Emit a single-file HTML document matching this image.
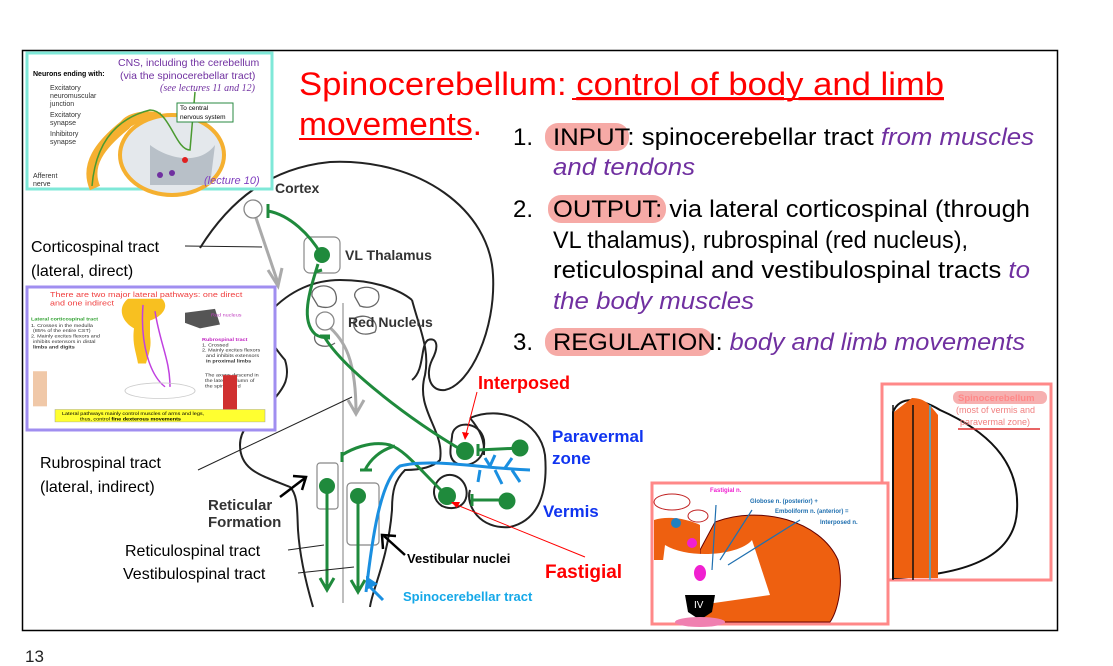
<!DOCTYPE html>
<html><head><meta charset="utf-8"><style>
html,body{margin:0;padding:0;background:#fff;}
svg{display:block;font-family:"Liberation Sans",sans-serif;}
</style></head><body>
<svg width="1113" height="666" viewBox="0 0 1113 666" xmlns="http://www.w3.org/2000/svg">
<rect x="0" y="0" width="1113" height="666" fill="#fff"/>
<rect x="22.5" y="50.5" width="1035" height="580" fill="none" stroke="#000" stroke-width="1.5"/>
<text x="25" y="662" font-size="17" fill="#222">13</text>

<!-- Title -->
<text x="299" y="95" font-size="32" fill="#f00" textLength="645" lengthAdjust="spacingAndGlyphs">Spinocerebellum: <tspan text-decoration="underline">control of body and limb</tspan></text>
<line x1="572" y1="99" x2="944" y2="99" stroke="#f00" stroke-width="2"/>
<text x="299" y="135" font-size="32" fill="#f00" textLength="183" lengthAdjust="spacingAndGlyphs">movements.</text>
<line x1="299" y1="139" x2="472" y2="139" stroke="#f00" stroke-width="2"/>

<!-- List -->
<g font-size="24" fill="#000">
<rect x="545" y="123" width="84" height="28" rx="13" fill="#f6aaa6"/>
<rect x="548" y="195" width="118" height="28" rx="13" fill="#f6aaa6"/>
<rect x="545" y="328" width="168" height="28" rx="13" fill="#f6aaa6"/>
<text x="513" y="145">1.</text>
<text x="553" y="145" textLength="481" lengthAdjust="spacingAndGlyphs">INPUT: spinocerebellar tract <tspan fill="#7030a0" font-style="italic">from muscles</tspan></text>
<text x="553" y="175" fill="#7030a0" font-style="italic" textLength="142" lengthAdjust="spacingAndGlyphs">and tendons</text>
<text x="513" y="217">2.</text>
<text x="553" y="217" textLength="477" lengthAdjust="spacingAndGlyphs">OUTPUT: via lateral corticospinal (through</text>
<text x="553" y="248" textLength="415" lengthAdjust="spacingAndGlyphs">VL thalamus), rubrospinal (red nucleus),</text>
<text x="553" y="278" textLength="477" lengthAdjust="spacingAndGlyphs">reticulospinal and vestibulospinal tracts <tspan fill="#7030a0" font-style="italic">to</tspan></text>
<text x="553" y="309" fill="#7030a0" font-style="italic" textLength="201" lengthAdjust="spacingAndGlyphs">the body muscles</text>
<text x="513" y="350">3.</text>
<text x="553" y="350" textLength="472" lengthAdjust="spacingAndGlyphs">REGULATION: <tspan fill="#7030a0" font-style="italic">body and limb movements</tspan></text>
</g>

<!-- Brain outlines -->
<g fill="none" stroke="#222" stroke-width="2">
<path d="M200,248 C230,200 270,168 330,162 C420,158 490,210 493,275 C496,330 470,385 445,390 C430,392 425,375 432,360 C440,345 436,337 428,340 C420,345 425,370 412,380"/>
<path d="M270,312 C290,290 315,280 340,280 C375,280 400,290 412,300"/>
<path d="M270,312 C262,330 272,345 285,360 C293,385 275,395 270,405 C250,420 240,430 240,445 C240,470 260,475 290,487 C298,495 297,510 298,530 C300,560 308,590 313,607"/>
<path d="M412,300 C420,330 430,350 425,375 C415,410 445,430 440,460 C430,470 410,470 405,470 C395,480 392,490 392,510 C388,560 372,590 370,607"/>
<path d="M470,418 C500,405 540,420 545,455 C548,490 540,520 510,527 C480,530 465,505 470,490"/>
<path d="M452,437 C452,420 480,420 484,440 C486,460 470,468 458,464 C448,460 450,450 452,437 Z"/>
<path d="M437,482 C445,470 462,474 466,488 C470,505 455,512 442,506 C433,500 432,490 437,482 Z"/>
<path d="M470,418 C480,430 485,440 484,455" />
</g>
<g fill="none" stroke="#666" stroke-width="1.3">
<path d="M312,296 C310,285 330,282 335,292 C340,305 330,310 318,306 Z"/>
<path d="M355,297 C352,288 370,283 378,292 C382,303 372,310 360,306 Z"/>
<path d="M355,318 C350,330 360,338 375,332 C380,322 368,312 355,318 Z"/>
<path d="M315,335 C312,345 325,350 335,343"/>
</g>
<line x1="343" y1="303" x2="343" y2="603" stroke="#aaa" stroke-width="1.5"/>
<rect x="304" y="237" width="36" height="36" rx="6" fill="none" stroke="#888" stroke-width="1.2"/>
<rect x="317" y="463" width="21" height="46" rx="3" fill="none" stroke="#888" stroke-width="1.2"/>
<rect x="347" y="483" width="32" height="62" rx="4" fill="none" stroke="#888" stroke-width="1.2"/>

<g stroke="#aaa" stroke-width="3" fill="none">
<path d="M255,215 L278,283"/><path d="M268,270 L278,286 L282,268"/>
<path d="M327,325 C345,340 356,360 356,413"/><path d="M348,400 L356,414 L364,400"/>
</g>
<circle cx="253" cy="209" r="9" fill="#fff" stroke="#888" stroke-width="1.3"/>
<circle cx="325" cy="321" r="9" fill="#fff" stroke="#888" stroke-width="1.3"/>

<g stroke="#1f8a3c" stroke-width="3" fill="none">
<path d="M268,211 C290,215 310,235 321,254"/><path d="M268,204 L268,218"/>
<path d="M318,264 C310,290 300,320 315,334 C320,338 327,338 330,338"/><path d="M315,272 L322,270"/>
<path d="M325,338 C345,370 410,420 465,452"/><path d="M320,336 L330,336"/>
<path d="M447,496 C420,470 405,450 390,445 C370,440 350,450 342,455"/><path d="M342,452 L342,462"/>
<path d="M395,446 C380,450 370,460 365,470"/><path d="M360,470 L372,470"/>
<path d="M327,486 L327,588"/><path d="M320,578 L327,590 L334,578"/>
<path d="M358,496 L358,590"/><path d="M351,580 L358,592 L365,580"/>
<path d="M478,450 L520,448"/><path d="M478,444 L478,456"/>
<path d="M472,500 L507,500"/><path d="M472,494 L472,506"/>
</g>
<g fill="#1f8a3c">
<circle cx="322" cy="255" r="8"/><circle cx="465" cy="451" r="9"/><circle cx="447" cy="496" r="9"/>
<circle cx="520" cy="448" r="8.5"/><circle cx="507" cy="501" r="8.5"/>
<circle cx="327" cy="486" r="8"/><circle cx="358" cy="496" r="8"/>
</g>
<g stroke="#1a8fe0" stroke-width="3" fill="none">
<path d="M366,592 C372,540 380,480 400,466 C430,458 480,468 530,470"/>
<path d="M490,466 L495,455 M490,466 L485,458 M505,468 L512,458 M512,470 L520,482 M480,470 L478,482 M495,470 L502,484"/>
</g>
<path d="M368,585 L383,600" stroke="#1a8fe0" stroke-width="3"/>
<path d="M366,576 L366,590 L378,584 Z" fill="#1a8fe0"/>

<g font-weight="bold" fill="#333">
<text x="275" y="193" font-size="14">Cortex</text>
<text x="345" y="260" font-size="14">VL Thalamus</text>
<text x="348" y="327" font-size="14">Red Nucleus</text>
<text x="208" y="510" font-size="15">Reticular</text>
<text x="208" y="527" font-size="15">Formation</text>
<text x="407" y="563" font-size="13" fill="#000">Vestibular nuclei</text>
</g>
<text x="478" y="389" font-size="18" font-weight="bold" fill="#f00">Interposed</text>
<text x="545" y="578" font-size="19" font-weight="bold" fill="#f00">Fastigial</text>
<text x="552" y="442" font-size="17" font-weight="bold" fill="#1034f0">Paravermal</text>
<text x="552" y="464" font-size="17" font-weight="bold" fill="#1034f0">zone</text>
<text x="543" y="517" font-size="17" font-weight="bold" fill="#1034f0">Vermis</text>
<text x="403" y="601" font-size="13" font-weight="bold" fill="#15a8e8">Spinocerebellar tract</text>
<g stroke="#000" stroke-width="2.5" fill="none">
<path d="M280,497 L305,478"/><path d="M293,476 L306,477 L302,490"/>
<path d="M405,555 L384,536"/><path d="M383,549 L382,535 L396,536"/>
</g>
<g stroke="#f00" stroke-width="1" fill="none">
<path d="M477,392 L465,438"/><path d="M585,557 L452,503"/>
</g>
<path d="M465,440 L462,432 L469,433 Z M451,502 L460,502 L457,508 Z" fill="#f00"/>

<g font-size="16" fill="#000">
<text x="31" y="252">Corticospinal tract</text>
<text x="31" y="276">(lateral, direct)</text>
<text x="40" y="468">Rubrospinal tract</text>
<text x="40" y="492">(lateral, indirect)</text>
<text x="125" y="556">Reticulospinal tract</text>
<text x="123" y="579">Vestibulospinal tract</text>
</g>
<g stroke="#222" stroke-width="1" fill="none">
<path d="M185,246 L262,247"/><path d="M198,470 L352,397"/>
<path d="M288,550 L324,545"/><path d="M298,573 L354,567"/>
</g>

<!-- Inset 1 -->
<rect x="27" y="53" width="245" height="136" fill="#fff" stroke="#7fe8d8" stroke-width="3"/>
<text x="33" y="76" font-size="7" font-weight="bold">Neurons ending with:</text>
<g font-size="7" fill="#333"><text x="50" y="90">Excitatory</text><text x="50" y="98">neuromuscular</text><text x="50" y="106">junction</text>
<text x="50" y="117">Excitatory</text><text x="50" y="125">synapse</text><text x="50" y="136">Inhibitory</text><text x="50" y="144">synapse</text>
<text x="33" y="178">Afferent</text><text x="33" y="186">nerve</text></g>
<text x="118" y="66" font-size="10.5" fill="#7030a0">CNS, including the cerebellum</text>
<text x="120" y="79" font-size="10.5" fill="#7030a0">(via the spinocerebellar tract)</text>
<text x="160" y="91" font-size="10" fill="#7030a0" font-style="italic" font-family="Liberation Serif">(see lectures 11 and 12)</text>
<path d="M95,188 C85,165 100,145 125,125 C130,118 145,115 160,118" stroke="#f5b030" stroke-width="11" fill="none"/>
<ellipse cx="172" cy="155" rx="52" ry="40" fill="#e4e8ec" stroke="#f5b030" stroke-width="4"/>
<path d="M150,145 C170,160 200,165 215,145 L210,185 L150,185 Z" fill="#b8c0c8"/>
<path d="M92,186 C95,150 110,120 150,110 C170,110 175,150 190,150 L195,92" stroke="#4a9a30" stroke-width="1.5" fill="none"/>
<rect x="177" y="103" width="56" height="19" fill="#fff" stroke="#2a8a40"/>
<text x="180" y="110" font-size="6.5">To central</text><text x="180" y="119" font-size="6.5">nervous system</text>
<circle cx="160" cy="175" r="3" fill="#7030a0"/><circle cx="172" cy="173" r="3" fill="#7030a0"/><circle cx="185" cy="160" r="3" fill="#e02020"/>
<text x="204" y="184" font-size="11" font-style="italic" fill="#8040c0">(lecture 10)</text>

<!-- Inset 2 -->
<rect x="27" y="287" width="248" height="143" fill="#fff" stroke="#a08ef0" stroke-width="3"/>
<g transform="translate(0,287) scale(1,0.78) translate(0,-287)">
<text x="50" y="300" font-size="9" fill="#f04040">There are two major lateral pathways: one direct</text>
<text x="50" y="311" font-size="9" fill="#f04040">and one indirect</text>
<path d="M128,302 L162,302 C170,312 162,325 150,330 L150,350 C152,365 148,375 146,385 L138,385 C136,370 132,360 134,340 C120,330 118,312 128,302 Z" fill="#f8c020"/>
<path d="M185,320 L215,315 L220,335 L200,340 L185,333 Z" fill="#555"/>
<text x="211" y="325" font-size="5.5" fill="#c040c0">Red nucleus</text>
<g font-size="5.5" fill="#333"><text x="31" y="330" fill="#30a030" font-weight="bold">Lateral corticospinal tract</text>
<text x="31" y="338">1. Crosses in the medulla</text><text x="33" y="345">(85% of the entire CST)</text>
<text x="31" y="352">2. Mainly excites flexors and</text><text x="33" y="359">inhibits extensors in distal</text><text x="33" y="366" font-weight="bold">limbs and digits</text>
<text x="202" y="356" fill="#c020c0" font-weight="bold">Rubrospinal tract</text><text x="202" y="363">1. Crossed</text>
<text x="202" y="370">2. Mainly excites flexors</text><text x="206" y="377">and inhibits extensors</text><text x="206" y="384" font-weight="bold">in proximal limbs</text>
<text x="205" y="402">The axons descend in</text><text x="205" y="409">the lateral column of</text><text x="205" y="416">the spinal cord</text></g>
<path d="M143,310 C140,360 150,400 165,415 M155,318 C160,360 170,380 170,415" stroke="#c040e0" stroke-width="1.5" fill="none"/>
<ellipse cx="160" cy="420" rx="35" ry="10" fill="none" stroke="#ccc"/>
<rect x="33" y="395" width="14" height="45" fill="#f0c8a8"/><rect x="223" y="400" width="14" height="45" fill="#d03030"/>
<rect x="55" y="444" width="210" height="16" fill="#ffff30" stroke="#999" stroke-width="0.5"/>
<text x="62" y="451" font-size="5.5">Lateral pathways mainly control muscles of arms and legs,</text>
<text x="80" y="458" font-size="5.5">thus, control <tspan font-weight="bold">fine dexterous movements</tspan></text>
</g>

<!-- Inset right -->
<rect x="882" y="384" width="169" height="196" fill="#fff" stroke="#f88" stroke-width="3"/>
<path d="M893,412 C900,395 920,398 940,410 C985,430 1020,460 1017,510 C1015,560 960,575 893,578 Z" fill="#fff" stroke="#111" stroke-width="2"/>
<path d="M894,412 L912,398 C925,398 930,405 938,415 L938,578 L894,578 Z" fill="#ee6010"/>
<line x1="893" y1="405" x2="893" y2="580" stroke="#111" stroke-width="1.5"/>
<line x1="913" y1="405" x2="913" y2="580" stroke="#111" stroke-width="1.5"/>
<line x1="930" y1="405" x2="930" y2="580" stroke="#3ab0e0" stroke-width="1.5"/>
<rect x="953" y="391" width="94" height="13" rx="6" fill="#f6b0b0"/>
<text x="958" y="401" font-size="9.5" font-weight="bold" fill="#f88">Spinocerebellum</text>
<text x="956" y="413" font-size="9" fill="#f08080">(most of vermis and</text>
<text x="960" y="425" font-size="9" fill="#f08080">paravermal zone)</text>
<line x1="958" y1="429" x2="1040" y2="429" stroke="#e03030" stroke-width="1.5"/>

<!-- Inset bottom -->
<rect x="652" y="483" width="236" height="141" fill="#fff" stroke="#f88" stroke-width="3"/>
<path d="M715,522 C760,505 820,520 838,560 C845,590 835,615 830,622 L700,622 L700,550 Z" fill="#ee6010" stroke="#600" stroke-width="1"/>
<path d="M654,520 C670,515 690,520 700,525 L700,560 L654,560 Z" fill="#ee6010"/>
<path d="M665,545 C690,560 740,555 752,540 L770,595 L700,605 L660,585 Z" fill="#fff"/>
<path d="M685,595 L715,595 L712,612 L700,620 L688,612 Z" fill="#000"/>
<text x="694" y="608" font-size="10" fill="#fff">IV</text>
<ellipse cx="700" cy="622" rx="25" ry="5" fill="#f080b0"/>
<ellipse cx="700" cy="573" rx="6" ry="8" fill="#f020d0"/><circle cx="692" cy="543" r="5" fill="#f020d0"/>
<circle cx="676" cy="523" r="5" fill="#2080c0"/>
<text x="710" y="492" font-size="6" font-weight="bold" fill="#f020d0">Fastigial n.</text>
<text x="750" y="503" font-size="6" font-weight="bold" fill="#2070b0">Globose n. (posterior) +</text>
<text x="775" y="513" font-size="6" font-weight="bold" fill="#2070b0">Emboliform n. (anterior) =</text>
<text x="820" y="524" font-size="6" font-weight="bold" fill="#2070b0">Interposed n.</text>
<ellipse cx="672" cy="502" rx="18" ry="8" fill="#fff" stroke="#c02020"/>
<ellipse cx="698" cy="516" rx="10" ry="6" fill="#fff" stroke="#c02020"/>
<path d="M716,505 L712,570 M752,510 L720,560 M800,520 L728,565" stroke="#2070b0" stroke-width="1.2"/>
</svg>
</body></html>
